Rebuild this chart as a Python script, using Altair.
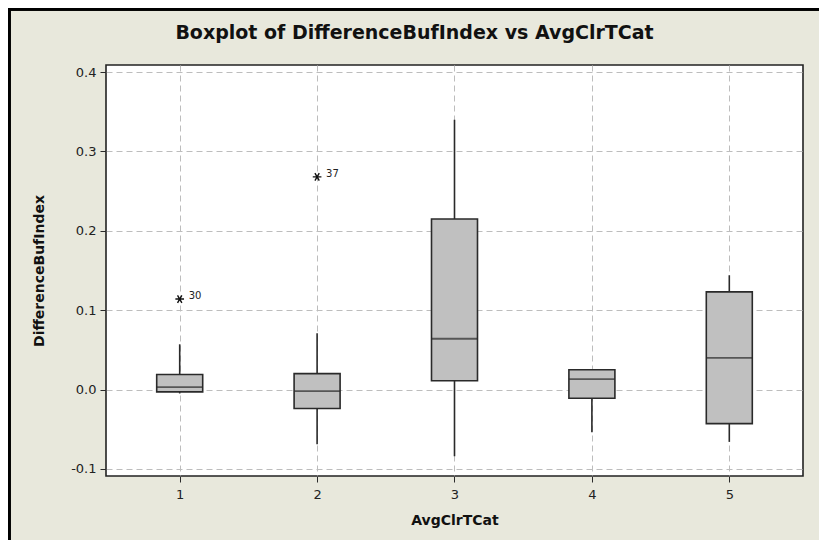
import altair as alt
import pandas as pd

# ---- data ----
cats = [1, 2, 3, 4, 5]
q1 = [-0.003, -0.024, 0.011, -0.011, -0.043]
median = [0.003, -0.002, 0.064, 0.013, 0.040]
q3 = [0.019, 0.020, 0.215, 0.025, 0.123]
whisker_low = [-0.005, -0.069, -0.084, -0.054, -0.066]
whisker_high = [0.057, 0.071, 0.340, 0.025, 0.144]

outlier_cat = [1, 2]
outlier_val = [0.114, 0.268]
outlier_lab = ["30", "37"]

y_ticks = [-0.1, 0.0, 0.1, 0.2, 0.3, 0.4]

box_df = pd.DataFrame({"cat": cats, "q1": q1, "median": median, "q3": q3,
                       "lo": whisker_low, "hi": whisker_high})
out_df = pd.DataFrame({"cat": outlier_cat, "val": outlier_val, "lab": outlier_lab})

FONT = "DejaVu Sans"
DARK = "#2a2a2a"

xscale = alt.Scale(domain=[0.5, 5.5], nice=False, zero=False)
yscale = alt.Scale(domain=[-0.109, 0.409], nice=False, zero=False)

xaxis = alt.Axis(values=cats, format="d", title="AvgClrTCat", grid=True,
                 gridDash=[6, 4], gridColor="#bdbdbd", gridWidth=1,
                 tickSize=6, tickColor=DARK, domain=False,
                 labelFontSize=13, labelColor="#222", labelPadding=6,
                 titleFontSize=14, titleFontWeight="bold", titleColor="#111",
                 titlePadding=12)
yaxis = alt.Axis(values=y_ticks, title="DifferenceBufIndex", grid=True,
                 labelExpr="datum.value < 0 ? '-' + format(abs(datum.value), '.1f') : format(datum.value, '.1f')",
                 gridDash=[6, 4], gridColor="#bdbdbd", gridWidth=1,
                 tickSize=6, tickColor=DARK, domain=False,
                 labelFontSize=13, labelColor="#222", labelPadding=4,
                 titleFontSize=14, titleFontWeight="bold", titleColor="#111",
                 titlePadding=24)

base = alt.Chart(box_df)

whiskers = base.mark_rule(color=DARK, strokeWidth=1.6).encode(
    x=alt.X("cat:Q", scale=xscale, axis=xaxis),
    y=alt.Y("lo:Q", scale=yscale, axis=yaxis),
    y2="hi:Q",
)

boxes = base.mark_bar(size=46, color="#c0c0c0", stroke=DARK, strokeWidth=1.6).encode(
    x=alt.X("cat:Q", scale=xscale),
    y=alt.Y("q1:Q", scale=yscale),
    y2="q3:Q",
)

medians = base.mark_tick(orient="horizontal", size=46, thickness=1.8, color=DARK).encode(
    x=alt.X("cat:Q", scale=xscale),
    y=alt.Y("median:Q", scale=yscale),
)

asterisk = "M -1 0 L 1 0 M -0.5 -0.866 L 0.5 0.866 M -0.5 0.866 L 0.5 -0.866"
outliers = alt.Chart(out_df).mark_point(shape=asterisk, size=75, filled=False,
                                        stroke="#111", strokeWidth=1.4, opacity=1).encode(
    x=alt.X("cat:Q", scale=xscale),
    y=alt.Y("val:Q", scale=yscale),
)
labels = alt.Chart(out_df).mark_text(align="left", baseline="middle", dx=9, dy=-3,
                                     font=FONT, fontSize=10, color="#222").encode(
    x=alt.X("cat:Q", scale=xscale),
    y=alt.Y("val:Q", scale=yscale),
    text="lab:N",
)

# decorative outer frame (left and top edges of the picture)
frame_left = alt.Chart(box_df).mark_rule(color="black", strokeWidth=3).encode(
    x=alt.value(-97), y=alt.value(-58), y2=alt.value(480))
frame_top = alt.Chart(box_df).mark_rule(color="black", strokeWidth=3).encode(
    x=alt.value(-98), x2=alt.value(720), y=alt.value(-56))

chart = alt.layer(whiskers, boxes, medians, outliers, labels, frame_left, frame_top).properties(
    width=697,
    height=411,
    autosize=alt.AutoSizeParams(type="none"),
    padding={"left": 98, "top": 57, "right": 16, "bottom": 64},
    title=alt.TitleParams("Boxplot of DifferenceBufIndex vs AvgClrTCat",
                          fontSize=19, fontWeight="bold", font=FONT, color="#111",
                          anchor="middle", frame="group", dx=-40, dy=63, offset=26),
    background="#e8e8dc",
).configure_view(
    stroke="#222", strokeWidth=1.6, fill="white"
).configure_axis(
    labelFont=FONT, titleFont=FONT
)

chart.save("out.html", embed_options={"renderer": "svg", "actions": False})
